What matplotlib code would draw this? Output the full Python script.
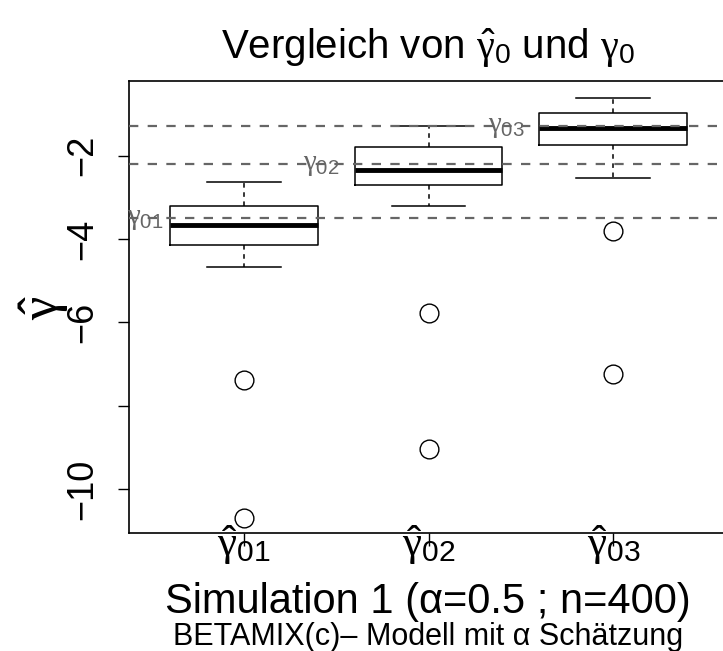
import numpy as np
import matplotlib
matplotlib.use("Agg")
import matplotlib.pyplot as plt

# === SETTINGS ===
plt.rcParams["font.family"] = ["Liberation Sans", "DejaVu Sans"]
plt.rcParams["mathtext.fontset"] = "custom"
plt.rcParams["mathtext.rm"] = "Liberation Sans"
plt.rcParams["mathtext.it"] = "Liberation Serif"
plt.rcParams["mathtext.bf"] = "Liberation Sans:bold"

# === DATA ===
positions = [1, 2, 3]
tick_labels = [r"$\hat{\gamma}_{01}$", r"$\hat{\gamma}_{02}$", r"$\hat{\gamma}_{03}$"]
whis_low = [-4.66, -3.20, -2.53]
q1 = [-4.15, -2.71, -1.75]
median = [-3.66, -2.35, -1.34]
q3 = [-3.21, -1.78, -0.97]
whis_high = [-2.62, -1.30, -0.62]
outliers = [[-7.38, -10.70], [-5.77, -9.04], [-3.81, -7.24]]

gamma_true = [-3.49, -2.21, -1.28]
gamma_labels = [r"$\gamma_{01}$", r"$\gamma_{02}$", r"$\gamma_{03}$"]
gamma_label_x = [0.47, 1.42, 2.42]

# === FIGURE ===
fig = plt.figure(figsize=(7.23, 6.51), dpi=100)
# plot region of the R device runs past the right edge
ax = fig.add_axes([129 / 723, 118 / 651, 599 / 723, 452 / 651])

stats = []
for i in range(len(positions)):
    stats.append(dict(med=median[i], q1=q1[i], q3=q3[i],
                      whislo=whis_low[i], whishi=whis_high[i],
                      fliers=outliers[i]))

ax.bxp(stats, positions=positions, widths=0.8, showfliers=True,
       boxprops=dict(color="black", linewidth=1.1),
       medianprops=dict(color="black", linewidth=3.5, solid_capstyle="butt"),
       whiskerprops=dict(color="black", linewidth=1.1, linestyle=(0, (3, 3))),
       capprops=dict(color="black", linewidth=1.1),
       capwidths=0.4,
       flierprops=dict(marker="o", markersize=13.5, markerfacecolor="none",
                       markeredgecolor="black", markeredgewidth=1.0))

for g, lab, lx in zip(gamma_true, gamma_labels, gamma_label_x):
    ax.axhline(g, color="#666666", linewidth=1.6, linestyle=(0, (4.2, 4.2)), zorder=3)
    ax.text(lx, g, lab, color="#666666", fontsize=21, ha="center", va="center", zorder=4)

ax.set_xlim(0.38, 3.62)
ax.set_ylim(-11.048, -0.209)
ax.set_yticks([-10, -8, -6, -4, -2])
ax.set_yticklabels(["\u221210", "", "\u22126", "\u22124", "\u22122"], rotation=90, va="center")
ax.set_xticks(positions)
ax.set_xticklabels(tick_labels)
ax.tick_params(axis="y", length=8, width=1, labelsize=26, pad=13)
ax.tick_params(axis="x", length=9, width=1, labelsize=31, pad=-16)
for s in ax.spines.values():
    s.set_linewidth(1.2)

fig.text(0.592, 0.926, r"Vergleich von $\hat{\gamma}_0$ und $\gamma_0$",
         fontsize=29, ha="center", va="center")
fig.text(0.062, 0.527, r"$\hat{\gamma}$", fontsize=38, rotation=90,
         ha="center", va="center")
fig.text(0.592, 0.076, "Simulation 1 (\u03b1=0.5 ; n=400)", fontsize=30,
         ha="center", va="center")
fig.text(0.592, 0.022, "BETAMIX(c)\u2013 Modell mit \u03b1 Sch\u00e4tzung", fontsize=22,
         ha="center", va="center")

fig.savefig("out.png", dpi=100)
